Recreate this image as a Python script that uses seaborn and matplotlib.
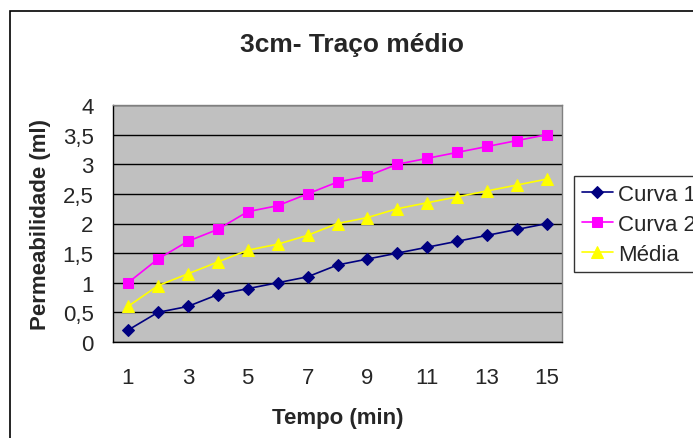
"""3cm- Traço médio: permeability over time, two curves and their mean."""
import numpy as np
import pandas as pd
import matplotlib
matplotlib.use("Agg")
import matplotlib.pyplot as plt
from matplotlib.patches import Rectangle
import seaborn as sns

tempo = [1, 2, 3, 4, 5, 6, 7, 8, 9, 10, 11, 12, 13, 14, 15]
curva_1 = [0.2, 0.5, 0.6, 0.8, 0.9, 1.0, 1.1, 1.3, 1.4, 1.5, 1.6, 1.7, 1.8, 1.9, 2.0]
curva_2 = [1.0, 1.4, 1.7, 1.9, 2.2, 2.3, 2.5, 2.7, 2.8, 3.0, 3.1, 3.2, 3.3, 3.4, 3.5]
media = [0.6, 0.95, 1.15, 1.35, 1.55, 1.65, 1.8, 2.0, 2.1, 2.25, 2.35, 2.45, 2.55, 2.65, 2.75]
series_names = ["Curva 1", "Curva 2", "Média"]
y_ticks = [0, 0.5, 1, 1.5, 2, 2.5, 3, 3.5, 4]
x_tick_labels = ["1", "3", "5", "7", "9", "11", "13", "15"]

sns.set_style("white")
plt.rcParams["font.family"] = ["Liberation Sans", "DejaVu Sans"]

df = pd.DataFrame({"Tempo": tempo * 3,
                   "valor": curva_1 + curva_2 + media,
                   "serie": np.repeat(series_names, len(tempo))})

palette = {"Curva 1": "#000080", "Curva 2": "#FF00FF", "Média": "#FFFF00"}
markers = {"Curva 1": "D", "Curva 2": "s", "Média": "^"}
msize = {"Curva 1": 6, "Curva 2": 7, "Média": 8}

fig = plt.figure(figsize=(6.93, 4.39), dpi=100)
ax = fig.add_axes([113 / 693, 1 - 343 / 439, (562 - 113) / 693, (343 - 106) / 439])
ax.set_facecolor("#C0C0C0")

for name in series_names:
    sub = df[df["serie"] == name]
    sns.lineplot(data=sub, x="Tempo", y="valor", ax=ax, color=palette[name],
                 marker=markers[name], markersize=msize[name],
                 markeredgecolor=palette[name], linewidth=1.2, label=name)

ax.set_xlim(0.5, 15.5)
ax.set_ylim(0, 4)
ax.set_yticks(y_ticks)
ax.set_yticklabels([f"{v:g}".replace(".", ",") for v in y_ticks], fontsize=16)
ax.set_xticks(tempo[::2])
ax.set_xticklabels(x_tick_labels, fontsize=16)
ax.set_xticks(np.arange(0.5, 16, 1), minor=True)
ax.tick_params(axis="x", which="major", length=0, pad=18)
ax.tick_params(axis="x", which="minor", length=6, width=1, color="black", direction="out")
ax.tick_params(axis="y", which="major", length=6, width=1, color="black", direction="out", pad=8)
ax.grid(axis="y", color="black", linewidth=1)
ax.set_axisbelow(True)
for side in ["top", "right"]:
    ax.spines[side].set_color("#808080")
for side in ["left", "bottom"]:
    ax.spines[side].set_color("black")
for s in ax.spines.values():
    s.set_linewidth(1)

ax.set_xlabel("Tempo (min)", fontsize=16, fontweight="bold", labelpad=14)
ax.set_ylabel("Permeabilidade (ml)", fontsize=16, fontweight="bold", labelpad=8)
fig.text(352 / 693, 1 - 45 / 439, "3cm- Traço médio", fontsize=19,
         fontweight="bold", ha="center", va="center")

leg = ax.legend(loc="upper left", bbox_to_anchor=(574 / 693, 1 - 177 / 439),
                bbox_transform=fig.transFigure, fontsize=16, frameon=True,
                fancybox=False, edgecolor="black", handlelength=1.4,
                borderpad=0.35, labelspacing=0.4, handletextpad=0.25,
                borderaxespad=0)
leg.get_frame().set_linewidth(1)

fig.patches.append(Rectangle((10 / 693, -0.2), 1.2, 0.2 + 1 - 12 / 439,
                             transform=fig.transFigure, fill=False,
                             edgecolor="black", linewidth=1.2))

fig.savefig("out.png", dpi=100, facecolor="white")
